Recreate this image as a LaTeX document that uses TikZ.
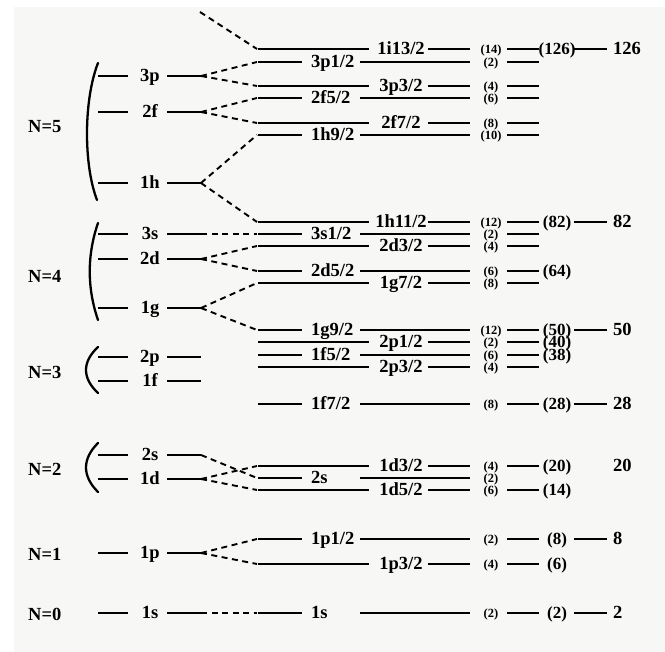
\documentclass[tikz,border=0pt]{standalone}
\usepackage{fontspec}
\setmainfont{Liberation Serif}
\definecolor{bgc}{RGB}{247,247,245}
\newcommand\lvl[3]{% id, y, label  (left column)
  \draw[lev] (98,#2) -- (128,#2);
  \node[lab,anchor=base] (#1) at (150,#2+6) {#3};
  \draw[lev] (167,#2) -- (201,#2);
  \coordinate (#1j) at (201,#2);
}
\newcommand\rowL[4]{% id, y, label, degeneracy
  \coordinate (#1s) at (257,#2);
  \draw[lev] (258,#2) -- (302,#2);
  \node[lab,anchor=base west] (#1) at (311,#2+6) {#3};
  \draw[lev] (360,#2) -- (470,#2);
  \node[deg,anchor=base] (#1d) at (491,#2+4.3) {(#4)};
}
\newcommand\rowR[4]{% id, y, label, degeneracy
  \coordinate (#1s) at (257,#2);
  \draw[lev] (258,#2) -- (369,#2);
  \node[lab,anchor=base] (#1) at (401,#2+6) {#3};
  \draw[lev] (428,#2) -- (470,#2);
  \node[deg,anchor=base] (#1d) at (491,#2+4.3) {(#4)};
}
\newcommand\tailline[2]{% id, y
  \draw[lev] (507,#2) -- (539,#2);
}
\newcommand\magicp[3]{% id, y, number
  \node[mag,anchor=base] (#1m) at (557,#2+6) {(#3)};
}
\newcommand\magicf[4]{% id, y, number, with line (1/0)
  \ifnum#4=1 \draw[lev] (574,#2) -- (607,#2);\fi
  \node[lab,anchor=base west] (#1f) at (613,#2+6) {#3};
}
\begin{document}
\begin{tikzpicture}[x=1pt,y=-1pt,
  lev/.style={line width=1.8pt},
  split/.style={line width=1.9pt, dash pattern=on 6pt off 4.5pt},
  bra/.style={line width=2.3pt, line cap=round},
  lab/.style={font=\fontsize{18.5}{20}\selectfont\bfseries, inner sep=0pt},
  mag/.style={font=\fontsize{17}{20}\selectfont\bfseries, inner sep=0pt},
  deg/.style={font=\fontsize{12.5}{14}\selectfont\bfseries, inner sep=0pt}]
\useasboundingbox (0,0) rectangle (665,652);
\fill[white] (0,0) rectangle (665,652);
\fill[bgc] (14,7) rectangle (665,652);

% shell labels
\node[lab,anchor=base west] (N5) at (28,133) {N=5};
\node[lab,anchor=base west] (N4) at (28,283) {N=4};
\node[lab,anchor=base west] (N3) at (28,379) {N=3};
\node[lab,anchor=base west] (N2) at (28,476) {N=2};
\node[lab,anchor=base west] (N1) at (28,561) {N=1};
\node[lab,anchor=base west] (N0) at (28,620) {N=0};

% brackets
\draw[bra] (98,63) .. controls (83.5,100) and (83.5,165) .. (97,200);
\draw[bra] (98,223) .. controls (87,255) and (87,288) .. (98,320);
\draw[bra] (98,347) .. controls (82,362) and (82,378) .. (98,393);
\draw[bra] (98,443) .. controls (82,459) and (82,476) .. (98,492);

% left levels
\lvl{l3p}{76}{3p}
\lvl{l2f}{112}{2f}
\lvl{l1h}{183}{1h}
\lvl{l3s}{234}{3s}
\lvl{l2d}{259}{2d}
\lvl{l1g}{308}{1g}
\lvl{l2p}{357}{2p}
\lvl{l1f}{381}{1f}
\lvl{l2s}{455}{2s}
\lvl{l1d}{479}{1d}
\lvl{l1p}{553}{1p}
\lvl{l1s}{613}{1s}

% right levels
\rowR{r1}{49}{1i13/2}{14}
\rowL{r2}{62}{3p1/2}{2}
\rowR{r3}{86}{3p3/2}{4}
\rowL{r4}{98}{2f5/2}{6}
\rowR{r5}{123}{2f7/2}{8}
\rowL{r6}{135}{1h9/2}{10}
\rowR{r7}{222}{1h11/2}{12}
\rowL{r8}{234}{3s1/2}{2}
\rowR{r9}{246}{2d3/2}{4}
\rowL{r10}{271}{2d5/2}{6}
\rowR{r11}{283}{1g7/2}{8}
\rowL{r12}{330}{1g9/2}{12}
\rowR{r13}{342}{2p1/2}{2}
\rowL{r14}{355}{1f5/2}{6}
\rowR{r15}{367}{2p3/2}{4}
\rowL{r16}{404}{1f7/2}{8}
\rowR{r17}{466}{1d3/2}{4}
\rowL{r18}{478}{2s}{2}
\rowR{r19}{490}{1d5/2}{6}
\rowL{r20}{539}{1p1/2}{2}
\rowR{r21}{564}{1p3/2}{4}
\rowL{r22}{613}{1s}{2}

% splitting (dashed)
\coordinate (top) at (200,12);
\draw[split] (top) -- (r1s);
\draw[split] (l3pj) -- (r2s);
\draw[split] (l3pj) -- (r3s);
\draw[split] (l2fj) -- (r4s);
\draw[split] (l2fj) -- (r5s);
\draw[split] (l1hj) -- (r6s);
\draw[split] (l1hj) -- (r7s);
\draw[split] (l3sj) -- (r8s);
\draw[split] (l2dj) -- (r9s);
\draw[split] (l2dj) -- (r10s);
\draw[split] (l1gj) -- (r11s);
\draw[split] (l1gj) -- (r12s);
\draw[split] (l2sj) -- (r18s);
\draw[split] (l1dj) -- (r17s);
\draw[split] (l1dj) -- (r19s);
\draw[split] (l1pj) -- (r20s);
\draw[split] (l1pj) -- (r21s);
\draw[split] (l1sj) -- (r22s);

% tails
\tailline{r1}{49}
\tailline{r2}{62}
\tailline{r3}{86}
\tailline{r4}{98}
\tailline{r5}{123}
\tailline{r6}{135}
\tailline{r7}{222}
\tailline{r8}{234}
\tailline{r9}{246}
\tailline{r10}{271}
\tailline{r11}{283}
\tailline{r12}{330}
\tailline{r13}{342}
\tailline{r14}{355}
\tailline{r15}{367}
\tailline{r16}{404}
\tailline{r17}{466}
\tailline{r19}{490}
\tailline{r20}{539}
\tailline{r21}{564}
\tailline{r22}{613}

% magic numbers
\magicp{r1}{49}{126}
\magicp{r7}{222}{82}
\magicp{r10}{271}{64}
\magicp{r12}{330}{50}
\magicp{r13}{342}{40}
\magicp{r14}{355}{38}
\magicp{r16}{404}{28}
\magicp{r17}{466}{20}
\magicp{r19}{490}{14}
\magicp{r20}{539}{8}
\magicp{r21}{564}{6}
\magicp{r22}{613}{2}

\magicf{r1}{49}{126}{1}
\magicf{r7}{222}{82}{1}
\magicf{r12}{330}{50}{1}
\magicf{r16}{404}{28}{1}
\magicf{r17}{466}{20}{0}
\magicf{r20}{539}{8}{1}
\magicf{r22}{613}{2}{1}
\end{tikzpicture}
\end{document}
